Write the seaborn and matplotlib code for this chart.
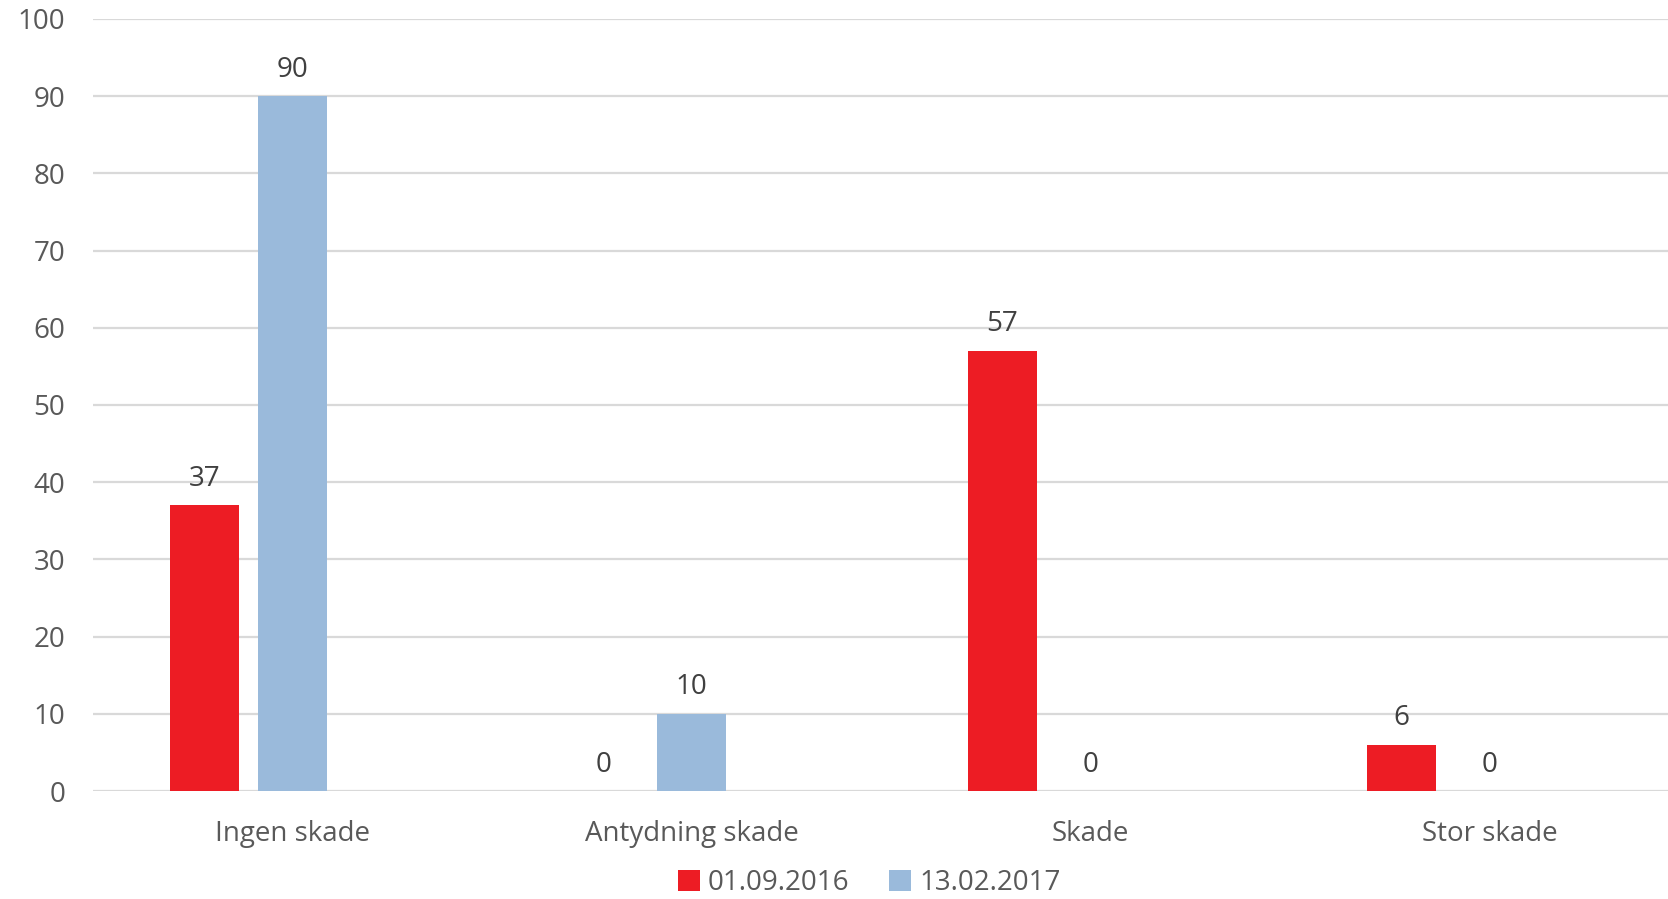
#!/usr/bin/env python3
# grouped bar chart: skade-vurdering ved to datoer

import matplotlib
matplotlib.use('Agg')
import numpy as np
import pandas as pd
import seaborn as sns
import matplotlib.pyplot as plt
from matplotlib.patches import Patch

categories = ['Ingen skade', 'Antydning skade', 'Skade', 'Stor skade']
series     = ['01.09.2016', '13.02.2017']
vals_2016  = [37, 0, 57, 6]
vals_2017  = [90, 10, 0, 0]
y_ticks    = list(range(0, 101, 10))

# third (empty) slot keeps the Excel-like offset of the two series
blank = '_blank'
df = pd.DataFrame({
  'kategori': categories * 3,
  'serie':    [series[0]]*4 + [series[1]]*4 + [blank]*4,
  'verdi':    vals_2016 + vals_2017 + [0]*4,
})

sns.set_theme(style='white')
plt.rcParams['font.family'] = ['Open Sans', 'DejaVu Sans']

colors = {series[0]: '#ED1C24', series[1]: '#9ABADB', blank: (1, 1, 1, 0)}
fs = 20

fig = plt.figure(figsize=(16.68, 8.99), dpi=100)
ax = fig.add_axes([93/1668, 1-791/899, 1596/1668, (791-19)/899])

sns.barplot(data=df, x='kategori', y='verdi', hue='serie',
            order=categories, hue_order=series + [blank], palette=colors,
            width=0.664, gap=0.22, errorbar=None, legend=False, ax=ax,
            saturation=1, linewidth=0)

for cont, lab in zip(ax.containers, series + [blank]):
  if lab == blank: continue
  ax.bar_label(cont, fmt='%d', padding=9, fontsize=fs, color='#404040')

ax.set_xlim(-0.5, 3.5)
ax.set_ylim(0, 100)
ax.set_yticks(y_ticks)
ax.yaxis.grid(True, color='#d9d9d9', linewidth=1.6)
ax.set_axisbelow(True)
for s in ax.spines.values(): s.set_visible(False)
ax.tick_params(axis='both', length=0, labelsize=fs, colors='#595959')
ax.tick_params(axis='x', pad=21)
ax.tick_params(axis='y', pad=20)
ax.set_xlabel('')
ax.set_ylabel('')

handles = [Patch(facecolor=colors[s], edgecolor='none') for s in series]
fig.legend(handles, series, loc='center', bbox_to_anchor=(869/1668, 1-883/899),
           ncol=2, frameon=False, fontsize=fs, labelcolor='#595959',
           handlelength=0.8, handleheight=0.8, handletextpad=0.3, columnspacing=1.4)

fig.savefig('out.png', dpi=100)
